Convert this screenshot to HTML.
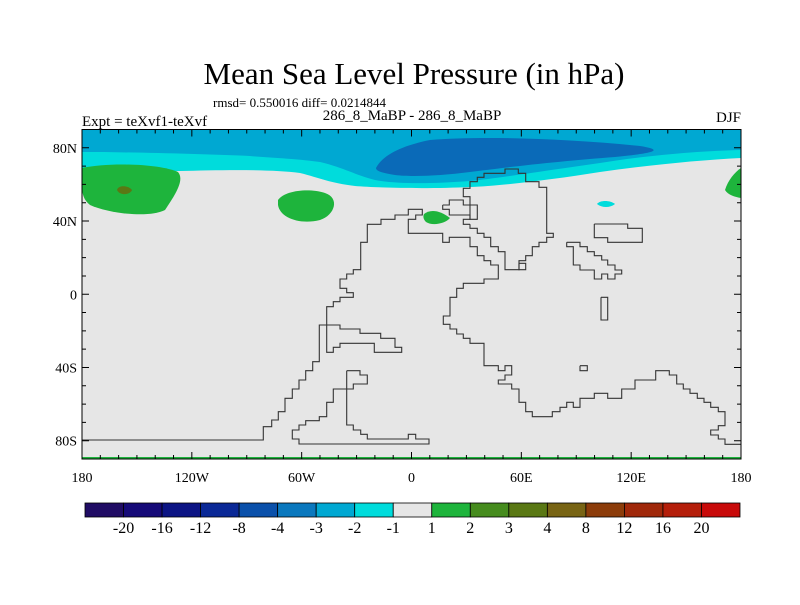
<!DOCTYPE html>
<html><head><meta charset="utf-8">
<style>
body{margin:0;background:#fff;}
svg text{font-family:"Liberation Serif",serif;fill:#000;}
</style></head>
<body>
<svg id="chart" width="800" height="600" viewBox="0 0 800 600" xmlns="http://www.w3.org/2000/svg">
<text x="414" y="84" font-size="31" text-anchor="middle">Mean Sea Level Pressure (in hPa)</text>
<text x="213" y="107" font-size="13">rmsd= 0.550016 diff= 0.0214844</text>
<text x="412" y="120" font-size="15" text-anchor="middle">286_8_MaBP - 286_8_MaBP</text>
<text x="82" y="126" font-size="15">Expt = teXvf1-teXvf</text>
<text x="741" y="122" font-size="15" text-anchor="end">DJF</text>
<g id="map"></g>
<g id="cbar"></g>
</svg>
<script>
const levels=["-20","-16","-12","-8","-4","-3","-2","-1","1","2","3","4","8","12","16","20"];
const colors=["#200c64","#160a78","#0c1484","#0a2896","#0a50aa","#0a78be","#00a8d2","#00dcdc","#e6e6e6","#1eb43c","#468c1e","#5a7814","#786414","#8c3c0a","#a0280a","#b41e0a","#c80a0a"];
const lonTicks=[-180,-120,-60,0,60,120,180];
const lonLabels=["180","120W","60W","0","60E","120E","180"];
const latTicks=[80,40,0,-40,-80];
const latLabels=["80N","40N","0","40S","80S"];

const NS="http://www.w3.org/2000/svg";
const X0=82,X1=741,Y0=129.5,Y1=459;
const xs=l=>X0+(l+180)*(X1-X0)/360;
const ys=l=>Y0+(90-l)*(Y1-Y0)/180;
function mk(t,a,p){const e=document.createElementNS(NS,t);for(const k in a)e.setAttribute(k,a[k]);p.appendChild(e);return e;}
const map=document.getElementById('map');

const bg=mk('rect',{x:X0,y:Y0,width:X1-X0,height:Y1-Y0,fill:'#e6e6e6'},map);



const cyanBand="M82,129 L741,129 L741,158 C700,160 650,165 600,172 C550,180 500,186 470,187 C430,189 380,188 355,186 C330,183 320,178 300,173 C270,169 220,170 180,171 C130,171 100,171 82,171 Z";
const medBand="M82,129 L741,129 L741,150 C700,151 650,155 600,163 C550,170 500,178 470,181 C430,184 395,184 375,180 C355,175 345,168 320,162 C290,158 270,158 250,156 C200,154 130,152 82,152 Z";
const darkBand="M376,168 C382,156 400,146 430,140 C480,136 560,138 640,146 C665,150 655,153 615,157 C560,161 500,168 470,172 C440,176 410,177 395,175 C382,173 376,171 376,168 Z";
[[cyanBand,colors[7],'contour-minus1'],[medBand,colors[6],'contour-minus2'],[darkBand,'#0a6ab8','contour-minus3']].forEach(s=>{
 const p=mk('path',{d:s[0],fill:s[1]},map);
 
 
});
const greens=[
 ["M82,168 C110,162 160,164 178,172 C185,180 175,195 165,210 C150,218 110,214 90,205 C84,200 82,195 82,185 Z",colors[9]],
 ["M278,200 C285,190 310,188 325,193 C340,198 335,215 320,220 C300,225 280,218 278,205 Z",colors[9]],
 ["M424,214 C430,209 440,210 450,218 C445,224 432,226 426,222 C423,219 423,216 424,214 Z",colors[9]],
 ["M741,168 L741,198 C735,197 728,195 725,190 C728,180 735,172 741,168 Z",colors[9]],
 ["M117,190 C118,185 128,185 132,190 C130,195 120,196 117,190 Z",colors[11]],
 ["M597,204 C600,200 610,200 615,204 C610,208 602,208 597,204 Z",colors[7]]
];
greens.forEach((g,i)=>{
 const p=mk('path',{d:g[0],fill:g[1]},map);
 
 
});
const gl=mk('rect',{x:X0,y:457,width:X1-X0,height:2.5,fill:colors[9]},map);



const z3=(a)=>{const o=[];for(let i=0;i<a.length;i+=2)o.push([260+a[i]/3,165+a[i+1]/3]);return o;};
const z4=(a)=>{const o=[];for(let i=0;i<a.length;i+=2)o.push([480+a[i]/3,200+a[i+1]/3]);return o;};
const main=[[82,440]].concat(z3([10,825,10,785,35,785,35,765,55,765,55,740,75,740,75,700,97,700,97,672,117,672,117,645,137,645,137,617,158,617,158,590,178,590,178,480,240,480,240,492,300,492,300,505,362,505,362,520,405,520,405,547,425,547,425,562,343,562,343,535,240,535,240,547,220,547,220,562,200,562,200,425,220,425,220,410,240,410,240,397,280,397,280,383,260,383,260,370,240,370,240,342,260,342,260,327,280,327,280,314,302,314,302,232,322,232,322,178,363,178,363,163,405,163,405,150,445,150,445,133,487,133,487,150,467,150,467,163,445,163,445,205,548,205,548,232,568,232,568,217,630,217,630,245,652,245,652,272,672,272,672,287,692,287,692,300,715,300,715,342,672,342,672,355,610,355,610,370,590,370,590,397,570,397,570,453,550,453,550,478,570,478,570,492,590,492,590,507,610,507,610,520,630,520,630,535,672,535,672,602,715,602,715,617,735,617,735,602,755,602])).concat(z4([95,525,75,525,75,540,55,540,55,552,95,552,95,567,117,567,117,607,137,607,137,635,157,635,157,650,217,650,217,635,240,635,240,622,260,622,260,607,280,607,280,622,300,622,300,595,343,595,343,580,383,580,383,595,425,595,425,567,465,567,465,540,527,540,527,512,568,512,568,525,590,525,590,552,610,552,610,567,630,567,630,580,652,580,652,595,672,595,672,607,692,607,692,622,715,622,715,635,735,635,735,677,715,677,715,690,692,690,692,705,715,705,715,717,735,717,735,733,783,733]));
const asia=z3([630,178,610,178,610,163,630,163,630,95,610,95,610,70,630,70,630,50,652,50,652,37,672,37,672,25,735,25,735,12,775,12,775,25,797,25,797,50,837,50,837,67,860,67,860,205,880,205,880,217,860,217,860,232,837,232,837,245,817,245,817,272,797,272,797,287,777,287,777,314,735,314,735,260,715,260,715,245,692,245,692,217,672,217,672,205,652,205,652,190,630,190,630,178]);
const inner=z3([548,120,568,120,568,105,610,105,610,120,652,120,652,163,630,163,630,150,568,150,568,133,548,133,548,120]);
const sq=z3([777,295,797,295,797,314,777,314,777,295]);
const box=z4([343,72,443,72,443,85,487,85,487,127,383,127,383,113,343,113,343,72]);
const isl=z4([260,127,300,127,300,140,322,140,322,155,343,155,343,167,365,167,365,180,383,180,383,195,405,195,405,210,425,210,425,222,405,222,405,237,383,237,383,222,365,222,365,237,343,237,343,210,300,210,300,195,280,195,280,140,260,140,260,127]);
const rect1=z4([363,292,383,292,383,360,363,360,363,292]);
const rect2=z4([300,497,322,497,322,512,300,512,300,497]);
const sam=z3([260,617,300,617,300,630,322,630,322,657,280,657,280,672,220,672,220,712,200,712,200,755,178,755,178,767,137,767,137,780,117,780,117,795,97,795,97,822,117,822,117,837,507,837,507,822,467,822,467,808,445,808,445,822,322,822,322,808,302,808,302,795,280,795,280,780,260,780,260,617]);
[main,asia,inner,sq,box,isl,rect1,rect2,sam].forEach((c,i)=>{
 const p=mk('polyline',{points:c.map(q=>q[0].toFixed(1)+','+q[1].toFixed(1)).join(' '),fill:'none',stroke:'#333','stroke-width':1.1},map);
 
 
});

const fr=mk('rect',{x:X0,y:Y0,width:X1-X0,height:Y1-Y0,fill:'none',stroke:'#000','stroke-width':1},map);


let td='';
for(let l=-180;l<=180;l+=10){const len=(l%60===0)?7:4;const x=xs(l);td+=`M${x},${Y1}v${-len}M${x},${Y0}v${len}`;}
for(let l=-80;l<=80;l+=10){const len=(l%40===0)?7:4;const y=ys(l);td+=`M${X0},${y}h${len}M${X1},${y}h${-len}`;}
const tk=mk('path',{d:td,stroke:'#000','stroke-width':1,fill:'none'},map);


lonTicks.forEach((l,i)=>{const t=mk('text',{x:xs(l),y:482,'font-size':14,'text-anchor':'middle'},map);t.textContent=lonLabels[i];
 
 });
latTicks.forEach((l,i)=>{const t=mk('text',{x:77,y:ys(l)+5,'font-size':14,'text-anchor':'end'},map);t.textContent=latLabels[i];
 
 });

const cb=document.getElementById('cbar');
const CB0=85,CB1=740,CBY=503,CBH=14;
const w=(CB1-CB0)/colors.length;
colors.forEach((c,i)=>{const r=mk('rect',{x:CB0+i*w,y:CBY,width:w,height:CBH,fill:c,stroke:'#000','stroke-width':0.8},cb);
 
 });
levels.forEach((v,i)=>{const t=mk('text',{x:CB0+(i+1)*w,y:533,'font-size':16,'text-anchor':'middle'},cb);t.textContent=v;
 
 });
</script>
</body></html>
